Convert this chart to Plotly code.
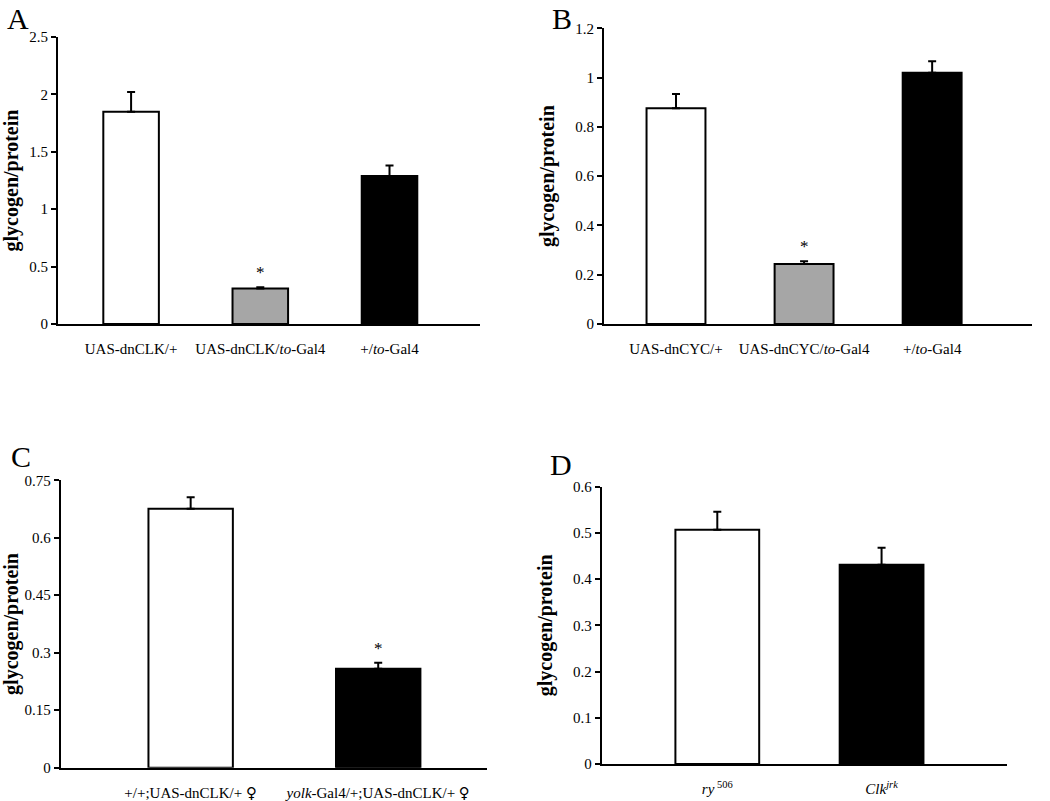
import plotly.graph_objects as go

# ---- data ----
FEMALE = '<span style="font-family:DejaVu Sans">♀</span>'

a_labels = ["UAS-dnCLK/+", "UAS-dnCLK/<i>to</i>-Gal4", "+/<i>to</i>-Gal4"]
a_values = [1.85, 0.31, 1.29]
a_errors = [0.17, 0.01, 0.09]
a_colors = ["white", "#a6a6a6", "black"]
a_sig = [False, True, False]

b_labels = ["UAS-dnCYC/+", "UAS-dnCYC/<i>to</i>-Gal4", "+/<i>to</i>-Gal4"]
b_values = [0.875, 0.243, 1.02]
b_errors = [0.058, 0.012, 0.046]
b_colors = ["white", "#a6a6a6", "black"]
b_sig = [False, True, False]

c_labels = ["+/+;UAS-dnCLK/+ " + FEMALE, "<i>yolk</i>-Gal4/+;UAS-dnCLK/+ " + FEMALE]
c_values = [0.676, 0.258]
c_errors = [0.030, 0.016]
c_colors = ["white", "black"]
c_sig = [False, True]

d_labels = ["<i>ry</i><sup> 506</sup>", "<i>Clk</i><sup><i>jrk</i></sup>"]
d_values = [0.507, 0.431]
d_errors = [0.039, 0.037]
d_colors = ["white", "black"]
d_sig = [False, False]

FONT = "Liberation Serif, Times New Roman, serif"

panels = [
    dict(name="A", labels=a_labels, values=a_values, errors=a_errors, colors=a_colors, sig=a_sig,
         xdom=[0.0552, 0.4571], ydom=[0.5955, 0.9538], xr=[-0.566, 2.70], yr=[0, 2.5], dt=0.5,
         width=0.43, letter_xy=(0.005, 1.0)),
    dict(name="B", labels=b_labels, values=b_values, errors=b_errors, colors=b_colors, sig=b_sig,
         xdom=[0.5752, 0.9829], ydom=[0.5955, 0.9647], xr=[-0.5625, 2.78], yr=[0, 1.2], dt=0.2,
         width=0.46, letter_xy=(0.524, 1.0)),
    dict(name="C", labels=c_labels, values=c_values, errors=c_errors, colors=c_colors, sig=c_sig,
         xdom=[0.0578, 0.4638], ydom=[0.0416, 0.4004], xr=[-0.693, 1.58], yr=[0, 0.75], dt=0.15,
         width=0.45, letter_xy=(0.009, 0.453)),
    dict(name="D", labels=d_labels, values=d_values, errors=d_errors, colors=d_colors, sig=d_sig,
         xdom=[0.5730, 0.9588], ydom=[0.0462, 0.3924], xr=[-0.704, 1.762], yr=[0, 0.6], dt=0.1,
         width=0.51, letter_xy=(0.522, 0.443)),
]

fig = go.Figure()
layout = dict(
    width=1050, height=801,
    margin=dict(l=0, r=0, t=0, b=0, autoexpand=False),
    paper_bgcolor="white", plot_bgcolor="white",
    showlegend=False,
    font=dict(family=FONT, color="black", size=15),
)
annotations = []

for i, p in enumerate(panels):
    sfx = "" if i == 0 else str(i + 1)
    xs = list(range(len(p["values"])))
    fig.add_trace(go.Bar(
        x=xs, y=p["values"], width=p["width"],
        marker=dict(color=p["colors"], line=dict(color="black", width=2)),
        error_y=dict(type="data", symmetric=False, array=p["errors"],
                     arrayminus=[0] * len(p["errors"]),
                     color="black", thickness=2, width=4),
        xaxis="x" + sfx, yaxis="y" + sfx, hoverinfo="skip",
    ))
    layout["xaxis" + sfx] = dict(
        domain=p["xdom"], anchor="y" + sfx, range=p["xr"],
        tickmode="array", tickvals=xs, ticktext=p["labels"],
        showgrid=False, zeroline=False, showline=True, linecolor="black", linewidth=2,
        ticks="", ticklabelstandoff=10, tickfont=dict(size=15, family=FONT),
        automargin=False, fixedrange=True,
    )
    layout["yaxis" + sfx] = dict(
        domain=p["ydom"], anchor="x" + sfx, range=p["yr"],
        tickmode="linear", tick0=0, dtick=p["dt"],
        showgrid=False, zeroline=False, showline=True, linecolor="black", linewidth=2,
        ticks="outside", ticklen=5, tickwidth=1.5, tickcolor="black",
        tickfont=dict(size=15, family=FONT),
        title=dict(text="<b>glycogen/protein</b>", font=dict(size=20, family=FONT)),
        automargin=False, fixedrange=True,
    )
    for j, s in enumerate(p["sig"]):
        if s:
            annotations.append(dict(
                x=xs[j], y=p["values"][j] + p["errors"][j], xref="x" + sfx, yref="y" + sfx,
                text="*", showarrow=False, yanchor="bottom", yshift=3,
                font=dict(size=17, family=FONT),
            ))
    lx, ly = p["letter_xy"]
    annotations.append(dict(
        x=lx, y=ly, xref="paper", yref="paper", text=p["name"], showarrow=False,
        xanchor="left", yanchor="top", font=dict(size=30, family=FONT),
    ))

layout["annotations"] = annotations
fig.update_layout(**layout)
fig.write_html("out.html", config={"displayModeBar": False},
               post_script="document.body.style.margin='0';")
